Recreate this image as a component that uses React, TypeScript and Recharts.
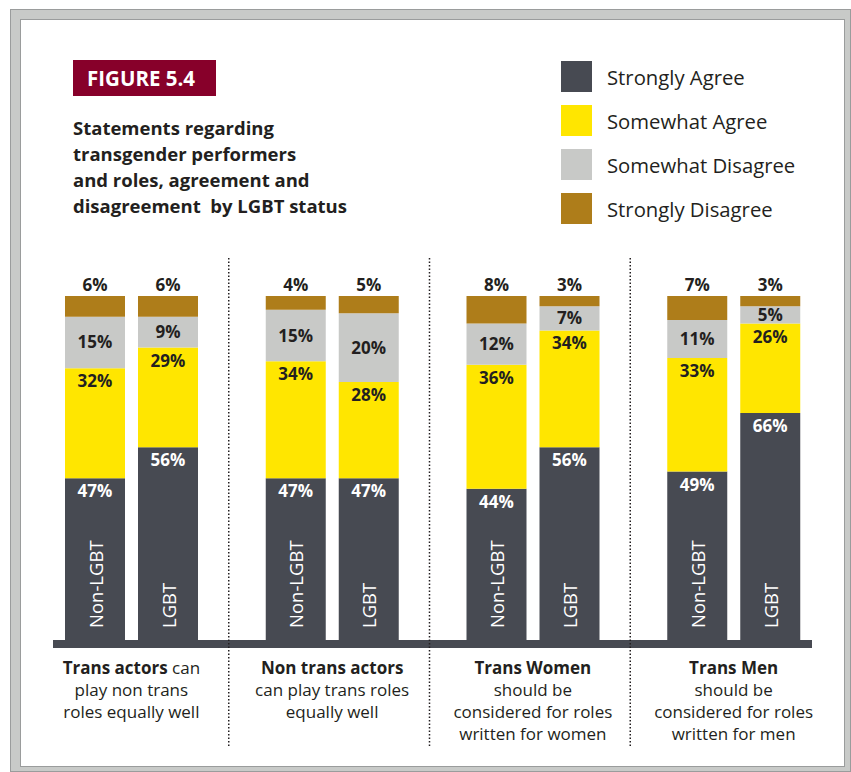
import { Bar, BarChart, LabelList, XAxis, YAxis } from 'recharts';

const statements = ['Trans actors', 'Non trans actors', 'Trans Women', 'Trans Men'];

// Non-LGBT respondents (%)
const nonStronglyAgree = [47, 47, 44, 49];
const nonSomewhatAgree = [32, 34, 36, 33];
const nonSomewhatDisagree = [15, 15, 12, 11];
const nonStronglyDisagree = [6, 4, 8, 7];

// LGBT respondents (%)
const lgbtStronglyAgree = [56, 47, 56, 66];
const lgbtSomewhatAgree = [29, 28, 34, 26];
const lgbtSomewhatDisagree = [9, 20, 7, 5];
const lgbtStronglyDisagree = [6, 5, 3, 3];

const groupNames = ['Non-LGBT', 'LGBT'];
const legendLabels = ['Strongly Agree', 'Somewhat Agree', 'Somewhat Disagree', 'Strongly Disagree'];
const colors = ['#474a52', '#ffe600', '#c8c9c7', '#ae7d1a'];

const captions = [
  { bold: 'Trans actors', lines: [' can', 'play non trans', 'roles equally well'] },
  { bold: 'Non trans actors', lines: ['', 'can play trans roles', 'equally well'] },
  { bold: 'Trans Women', lines: ['', 'should be', 'considered for roles', 'written for women'] },
  { bold: 'Trans Men', lines: ['', 'should be', 'considered for roles', 'written for men'] },
];

const data = statements.map((s, i) => ({
  statement: s,
  nonSA: nonStronglyAgree[i],
  nonWA: nonSomewhatAgree[i],
  nonWD: nonSomewhatDisagree[i],
  nonSD: nonStronglyDisagree[i],
  lgbtSA: lgbtStronglyAgree[i],
  lgbtWA: lgbtSomewhatAgree[i],
  lgbtWD: lgbtSomewhatDisagree[i],
  lgbtSD: lgbtStronglyDisagree[i],
}));

const W = 851;
const H = 772;
const margin = { top: 296, right: 17, bottom: 132, left: 31 };
const band = (W - margin.left - margin.right) / statements.length;
const ink = '#231f20';
const font = '"Open Sans", sans-serif';

const pct = (v: any) => `${v}%`;

const nameLabel = (name: string) => (props: any) => {
  const vb = props.viewBox ?? props;
  const cx = vb.x + vb.width / 2;
  const by = vb.y + vb.height - 12;
  return (
    <text x={cx} y={by} transform={`rotate(-90 ${cx} ${by})`} fill="#fff" fontSize={18.5}
      textAnchor="start" dominantBaseline="central" fontFamily={font}>{name}</text>
  );
};

function stack(prefix: string, name: string) {
  const lbl = { fontSize: 17, fontWeight: 700, fontFamily: font, formatter: pct };
  return [
    <Bar key={prefix + 'SA'} dataKey={prefix + 'SA'} stackId={prefix} fill={colors[0]} isAnimationActive={false}>
      <LabelList dataKey={prefix + 'SA'} position="insideTop" offset={7} fill="#fff" {...lbl} />
      <LabelList dataKey={prefix + 'SA'} content={nameLabel(name)} />
    </Bar>,
    <Bar key={prefix + 'WA'} dataKey={prefix + 'WA'} stackId={prefix} fill={colors[1]} isAnimationActive={false}>
      <LabelList dataKey={prefix + 'WA'} position="insideTop" offset={7} fill={ink} {...lbl} />
    </Bar>,
    <Bar key={prefix + 'WD'} dataKey={prefix + 'WD'} stackId={prefix} fill={colors[2]} isAnimationActive={false}>
      <LabelList dataKey={prefix + 'WD'} position="center" fill={ink} {...lbl} />
    </Bar>,
    <Bar key={prefix + 'SD'} dataKey={prefix + 'SD'} stackId={prefix} fill={colors[3]} isAnimationActive={false}>
      <LabelList dataKey={prefix + 'SD'} position="top" offset={5} fill={ink} {...lbl} />
    </Bar>,
  ];
}

export default function App() {
  return (
    <div style={{ position: 'absolute', left: 0, top: 0, width: W, height: H, background: '#fff', fontFamily: font, color: ink, overflow: 'hidden' }}>
      {/* frame */}
      <div style={{ position: 'absolute', left: 10, top: 9, width: 839, height: 761, background: '#c8cac8', border: '1px solid #9a9c9c' }} />
      <div style={{ position: 'absolute', left: 20, top: 19, width: 823, height: 746, background: '#fff', border: '1px solid #9a9c9c' }} />

      <svg width={W} height={H} style={{ position: 'absolute', left: 0, top: 0 }}>
        <rect x={53} y={H - margin.bottom} width={759} height={8} fill={colors[0]} />
        {[1, 2, 3].map((i) => (
          <line key={i} x1={margin.left + band * i - 3} x2={margin.left + band * i - 3} y1={258} y2={747}
            stroke={ink} strokeWidth={1.5} strokeDasharray="1.5 2" />
        ))}
      </svg>

      <div style={{ position: 'absolute', left: 0, top: 0 }}>
        <BarChart width={W} height={H} data={data} margin={margin} barSize={60} barGap={13}>
          <XAxis dataKey="statement" hide />
          <YAxis hide domain={[0, 100]} />
          {stack('non', groupNames[0])}
          {stack('lgbt', groupNames[1])}
        </BarChart>
      </div>

      <div style={{ position: 'absolute', left: 73, top: 60, width: 143, height: 36, background: '#87002a', color: '#fff', fontWeight: 700, fontSize: 20.5, lineHeight: '36px', paddingLeft: 14, boxSizing: 'border-box', whiteSpace: 'nowrap' }}>
        FIGURE 5.4
      </div>
      <div style={{ position: 'absolute', left: 73, top: 115, fontWeight: 700, fontSize: 18.5, lineHeight: '26px', whiteSpace: 'nowrap' }}>
        Statements regarding<br />transgender performers<br />and roles, agreement and<br />disagreement&nbsp; by LGBT status
      </div>

      {legendLabels.map((l, i) => (
        <div key={l} style={{ position: 'absolute', left: 561, top: 61 + i * 44, display: 'flex', alignItems: 'center' }}>
          <div style={{ width: 31, height: 31, background: colors[i] }} />
          <span style={{ marginLeft: 15, fontSize: 20.3, whiteSpace: 'nowrap' }}>{l}</span>
        </div>
      ))}

      {captions.map((c, i) => (
        <div key={i} style={{ position: 'absolute', left: margin.left + band * (i + 0.5) - 100, top: 657, width: 200, textAlign: 'center', fontSize: 17, lineHeight: '22px' }}>
          <b>{c.bold}</b>{c.lines[0]}
          {c.lines.slice(1).map((t) => <div key={t}>{t}</div>)}
        </div>
      ))}
    </div>
  );
}
